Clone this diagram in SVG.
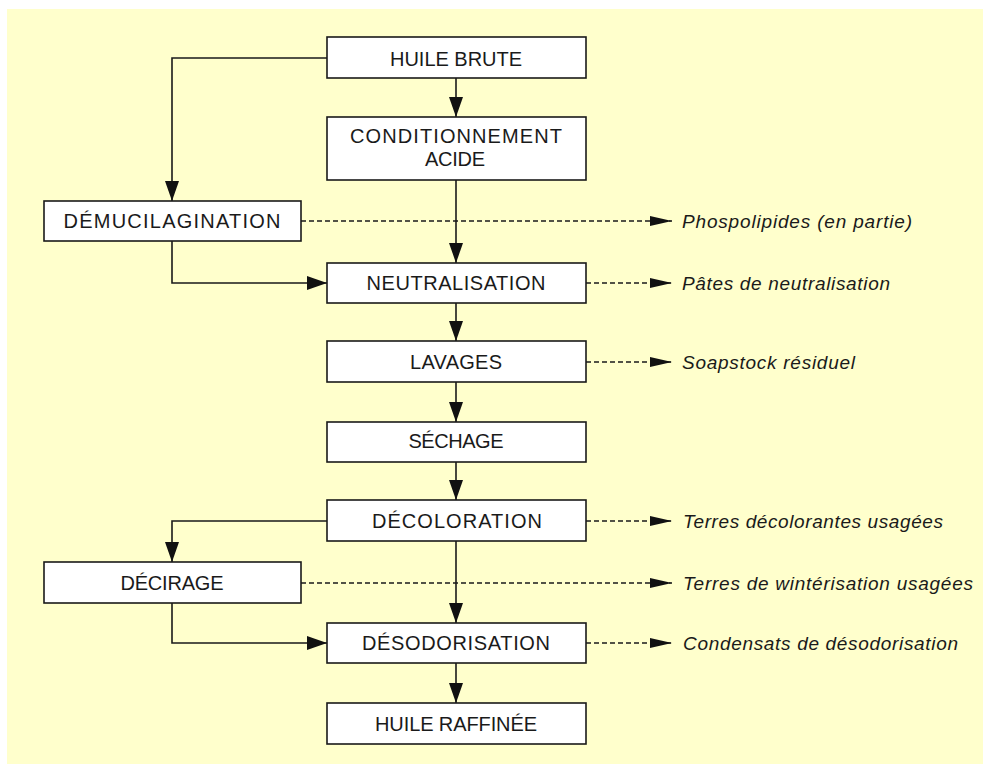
<svg xmlns="http://www.w3.org/2000/svg" width="983" height="764" viewBox="0 0 983 764">
<defs>
<style>
.box{fill:#ffffff;stroke:#1a1a1a;stroke-width:1.6}
.t{font-family:"Liberation Sans",Arial,sans-serif;font-size:20px;fill:#1a1a1a;text-anchor:middle}
.l{font-family:"Liberation Sans",Arial,sans-serif;font-size:19px;font-style:italic;fill:#1a1a1a}
.c{fill:none;stroke:#1a1a1a;stroke-width:1.6}
.d{fill:none;stroke:#1a1a1a;stroke-width:1.3;stroke-dasharray:5 3}
</style>
<marker id="arr" markerUnits="userSpaceOnUse" markerWidth="22" markerHeight="16" refX="20" refY="7.5" orient="auto">
<path d="M0,0.5 L20,7.5 L0,14.5 z" fill="#111"/>
</marker>
<marker id="arrs" markerUnits="userSpaceOnUse" markerWidth="24" markerHeight="12" refX="22" refY="5.5" orient="auto">
<path d="M0,0.5 L22,5.5 L0,10.5 z" fill="#111"/>
</marker>
</defs>
<rect x="0" y="0" width="983" height="764" fill="#ffffff"/>
<rect x="7" y="9" width="976" height="755" fill="#ffffcc"/>

<g id="connectors">
<path class="c" d="M456,78 V117" marker-end="url(#arr)"/>
<path class="c" d="M456,180 V263" marker-end="url(#arr)"/>
<path class="c" d="M327,58 H172 V201" marker-end="url(#arr)"/>
<path class="c" d="M172,241 V283 H327" marker-end="url(#arr)"/>
<path class="c" d="M456,303 V341" marker-end="url(#arr)"/>
<path class="c" d="M456,382 V422" marker-end="url(#arr)"/>
<path class="c" d="M456,462 V500" marker-end="url(#arr)"/>
<path class="c" d="M327,521 H172 V562" marker-end="url(#arr)"/>
<path class="c" d="M456,541 V623" marker-end="url(#arr)"/>
<path class="c" d="M172,603 V643 H327" marker-end="url(#arr)"/>
<path class="c" d="M456,663 V703" marker-end="url(#arr)"/>
<path class="d" d="M301,221 H672" marker-end="url(#arrs)"/>
<path class="d" d="M586,283 H672" marker-end="url(#arrs)"/>
<path class="d" d="M586,362 H672" marker-end="url(#arrs)"/>
<path class="d" d="M586,521 H672" marker-end="url(#arrs)"/>
<path class="d" d="M301,583 H672" marker-end="url(#arrs)"/>
<path class="d" d="M586,643 H672" marker-end="url(#arrs)"/>
</g>

<g id="huile-brute"><rect class="box" x="327" y="37" width="259" height="41"/><text class="t" x="456" y="66" textLength="132" lengthAdjust="spacing">HUILE BRUTE</text></g>
<g id="conditionnement"><rect class="box" x="327" y="117" width="259" height="63"/><text class="t" x="456" y="143" textLength="212" lengthAdjust="spacing">CONDITIONNEMENT</text><text class="t" x="455" y="166" textLength="60" lengthAdjust="spacing">ACIDE</text></g>
<g id="demucilagination"><rect class="box" x="44" y="201" width="257" height="40"/><text class="t" x="172" y="228" textLength="217" lengthAdjust="spacing">DÉMUCILAGINATION</text></g>
<g id="neutralisation"><rect class="box" x="327" y="263" width="259" height="40"/><text class="t" x="456" y="290" textLength="179" lengthAdjust="spacing">NEUTRALISATION</text></g>
<g id="lavages"><rect class="box" x="327" y="341" width="259" height="41"/><text class="t" x="456" y="369" textLength="92" lengthAdjust="spacing">LAVAGES</text></g>
<g id="sechage"><rect class="box" x="327" y="422" width="259" height="40"/><text class="t" x="456" y="448" textLength="95" lengthAdjust="spacing">SÉCHAGE</text></g>
<g id="decoloration"><rect class="box" x="327" y="500" width="259" height="41"/><text class="t" x="457" y="528" textLength="170" lengthAdjust="spacing">DÉCOLORATION</text></g>
<g id="decirage"><rect class="box" x="44" y="562" width="257" height="41"/><text class="t" x="172" y="590" textLength="103" lengthAdjust="spacing">DÉCIRAGE</text></g>
<g id="desodorisation"><rect class="box" x="327" y="623" width="259" height="40"/><text class="t" x="456" y="650" textLength="188" lengthAdjust="spacing">DÉSODORISATION</text></g>
<g id="huile-raffinee"><rect class="box" x="327" y="703" width="259" height="41"/><text class="t" x="456" y="731" textLength="162" lengthAdjust="spacing">HUILE RAFFINÉE</text></g>

<g id="labels">
<text class="l" x="682" y="228" textLength="230" lengthAdjust="spacing">Phospolipides (en partie)</text>
<text class="l" x="682" y="290" textLength="208" lengthAdjust="spacing">Pâtes de neutralisation</text>
<text class="l" x="682" y="369" textLength="173" lengthAdjust="spacing">Soapstock résiduel</text>
<text class="l" x="683" y="528" textLength="260" lengthAdjust="spacing">Terres décolorantes usagées</text>
<text class="l" x="683" y="590" textLength="290" lengthAdjust="spacing">Terres de wintérisation usagées</text>
<text class="l" x="683" y="650" textLength="275" lengthAdjust="spacing">Condensats de désodorisation</text>
</g>
</svg>
